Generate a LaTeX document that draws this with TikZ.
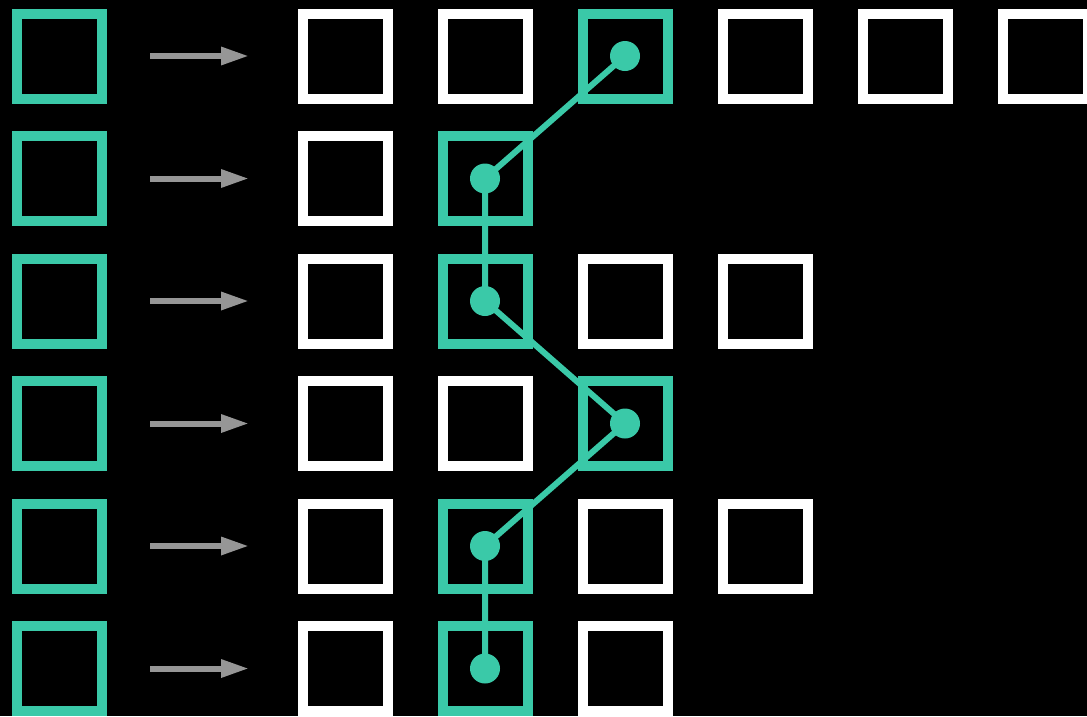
\documentclass[tikz,border=0pt]{standalone}
\usetikzlibrary{arrows.meta}
\definecolor{teal1}{RGB}{58,201,168}
\definecolor{arrowgray}{RGB}{150,150,150}
\tikzset{
  box/.style={draw, line width=10pt, minimum size=85pt, inner sep=0pt, rectangle},
  wbox/.style={box, draw=white},
  tbox/.style={box, draw=teal1},
  dot/.style={circle, fill=teal1, minimum size=30pt, inner sep=0pt},
  link/.style={draw=teal1, line width=6pt},
  garrow/.style={draw=arrowgray, line width=6pt, -{Triangle[length=28pt,width=17pt]}}
}
\begin{document}
\begin{tikzpicture}[x=1pt,y=-1pt]
\fill[black] (0,0) rectangle (1087,716);
\useasboundingbox (0,0) rectangle (1087,716);
% rows
\foreach \r/\y in {1/56,2/178.5,3/301,4/423.5,5/546,6/668.5}{
  \node[tbox] (L\r) at (59.5,\y) {};
  \coordinate (A\r) at (150,\y);
  \coordinate (B\r) at (249,\y);
  \draw[garrow] (A\r) -- (B\r);
}
% row 1
\node[wbox] (r1c1) at (345,56) {};
\node[wbox] (r1c2) at (485,56) {};
\node[tbox] (r1c3) at (625,56) {};
\node[wbox] (r1c4) at (765,56) {};
\node[wbox] (r1c5) at (905,56) {};
\node[wbox] (r1c6) at (1045,56) {};
% row 2
\node[wbox] (r2c1) at (345,178.5) {};
\node[tbox] (r2c2) at (485,178.5) {};
% row 3
\node[wbox] (r3c1) at (345,301) {};
\node[tbox] (r3c2) at (485,301) {};
\node[wbox] (r3c3) at (625,301) {};
\node[wbox] (r3c4) at (765,301) {};
% row 4
\node[wbox] (r4c1) at (345,423.5) {};
\node[wbox] (r4c2) at (485,423.5) {};
\node[tbox] (r4c3) at (625,423.5) {};
% row 5
\node[wbox] (r5c1) at (345,546) {};
\node[tbox] (r5c2) at (485,546) {};
\node[wbox] (r5c3) at (625,546) {};
\node[wbox] (r5c4) at (765,546) {};
% row 6
\node[wbox] (r6c1) at (345,668.5) {};
\node[tbox] (r6c2) at (485,668.5) {};
\node[wbox] (r6c3) at (625,668.5) {};
% path
\draw[link] (r1c3.center) -- (r2c2.center) -- (r3c2.center) -- (r4c3.center) -- (r5c2.center) -- (r6c2.center);
\node[dot] (d1) at (r1c3.center) {};
\node[dot] (d2) at (r2c2.center) {};
\node[dot] (d3) at (r3c2.center) {};
\node[dot] (d4) at (r4c3.center) {};
\node[dot] (d5) at (r5c2.center) {};
\node[dot] (d6) at (r6c2.center) {};
\end{tikzpicture}
\end{document}
